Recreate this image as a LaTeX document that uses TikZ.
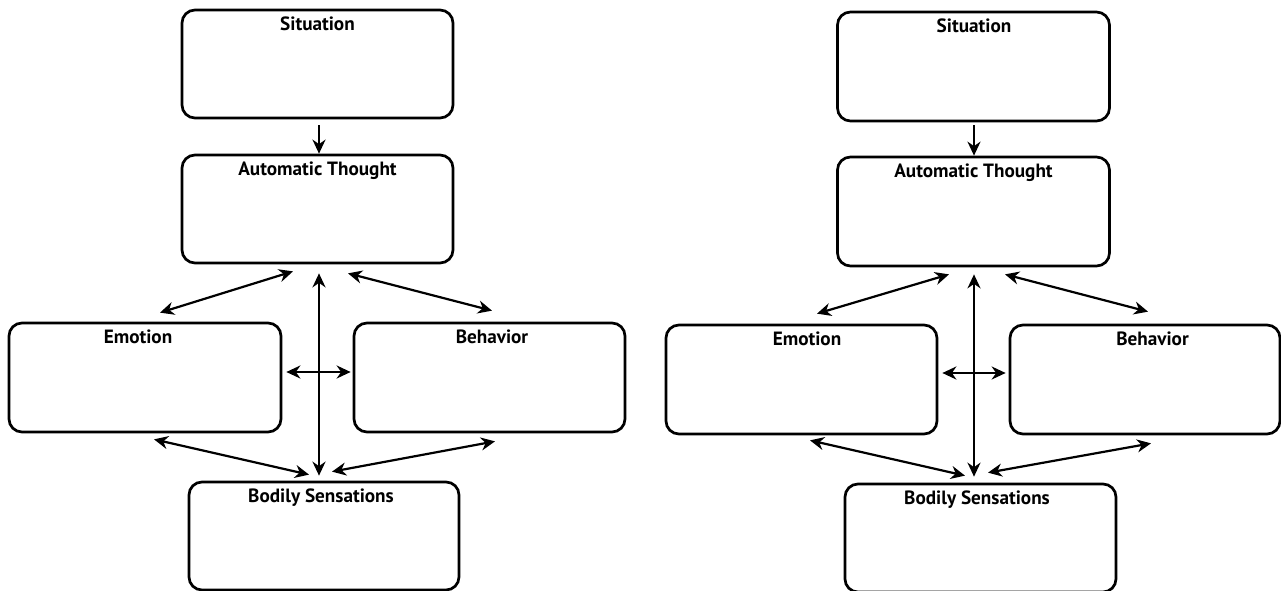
\documentclass[tikz,border=0pt]{standalone}
\usepackage{fontspec}
\setmainfont{PT Sans}
\usetikzlibrary{arrows.meta,calc}
\tikzset{
  box/.style={draw=black, line width=2.7pt, rounded corners=13pt, fill=white,
    minimum width=271pt, minimum height=108pt, inner sep=0pt},
  title/.style={anchor=base, font=\bfseries\fontsize{19.2}{21}\selectfont, inner sep=0pt},
  tip/.tip={Stealth[length=14pt,width=13pt,inset=4.5pt]},
  conn/.style={line width=2.2pt, -tip},
  dconn/.style={line width=2.2pt, tip-tip}
}
\begin{document}
\begin{tikzpicture}[x=1pt,y=-1pt]
\useasboundingbox (0,0) rectangle (1281,591);
% ---------- left diagram ----------
\node[box] (LSit) at (317.5,64) {};
\node[box] (LAT)  at (317.5,209) {};
\node[box, minimum width=272pt, minimum height=109pt] (LEmo) at (145,377.5) {};
\node[box, minimum width=271pt, minimum height=109pt] (LBeh) at (489.5,377.5) {};
\node[box, minimum width=270pt] (LBod) at (324,536) {};
\node[title] (LSitT) at ($(LSit.north)+(0,21.5)$) {Situation};
\node[title] (LATT)  at ($(LAT.north)+(0,21.5)$) {Automatic Thought};
\node[title] (LEmoT) at ($(LEmo.north)+(-7,22)$) {Emotion};
\node[title] (LBehT) at ($(LBeh.north)+(2.5,22)$) {Behavior};
\node[title] (LBodT) at ($(LBod.north)+(-3,21.5)$) {Bodily Sensations};
\draw[conn] ($(LSit.south)+(1.5,6)$) -- ($(LAT.north)+(1.5,0)$);
\draw[dconn] ($(LAT.south)+(-24.5,7)$) -- ($(LEmo.north)+(15,-9)$);
\draw[dconn] ($(LAT.south)+(30.5,9)$) -- ($(LBeh.north)+(2.5,-11)$);
\draw[dconn] ($(LAT.south)+(1.5,9)$) -- ($(LBod.north)+(-5,-5)$);
\draw[dconn] ($(LEmo.east)+(4,-5.5)$) -- ($(LBeh.west)+(-2,-5.5)$);
\draw[dconn] ($(LEmo.south)+(9,6)$) -- ($(LBod.north)+(-15,-6)$);
\draw[dconn] ($(LBeh.south)+(5.5,8)$) -- ($(LBod.north)+(8,-9)$);
% ---------- right diagram ----------
\node[box, minimum width=272pt, minimum height=109pt] (RSit) at (973.5,66.5) {};
\node[box, minimum width=272pt, minimum height=109pt] (RAT)  at (973.5,211.5) {};
\node[box, minimum width=271pt, minimum height=109pt] (REmo) at (801.5,379.5) {};
\node[box, minimum width=270pt, minimum height=109pt] (RBeh) at (1145,379.5) {};
\node[box, minimum width=271pt] (RBod) at (980.5,538) {};
\node[title] (RSitT) at ($(RSit.north)+(0.5,21.5)$) {Situation};
\node[title] (RATT)  at ($(RAT.north)+(0,21.5)$) {Automatic Thought};
\node[title] (REmoT) at ($(REmo.north)+(5.5,21.5)$) {Emotion};
\node[title] (RBehT) at ($(RBeh.north)+(7.5,21.5)$) {Behavior};
\node[title] (RBodT) at ($(RBod.north)+(-3.5,21.5)$) {Bodily Sensations};
\draw[conn] ($(RSit.south)+(0.5,3)$) -- ($(RAT.north)+(0.5,0)$);
\draw[dconn] ($(RAT.south)+(-24.5,7)$) -- ($(REmo.north)+(15.5,-10)$);
\draw[dconn] ($(RAT.south)+(31.5,7)$) -- ($(RBeh.north)+(3,-12)$);
\draw[dconn] ($(RAT.south)+(0.5,7)$) -- ($(RBod.north)+(-6.5,-6)$);
\draw[dconn] ($(REmo.east)+(4,-6.5)$) -- ($(RBeh.west)+(-3,-6.5)$);
\draw[dconn] ($(REmo.south)+(8.5,5)$) -- ($(RBod.north)+(-15.5,-7)$);
\draw[dconn] ($(RBeh.south)+(6,8)$) -- ($(RBod.north)+(7.5,-10)$);
\end{tikzpicture}
\end{document}
